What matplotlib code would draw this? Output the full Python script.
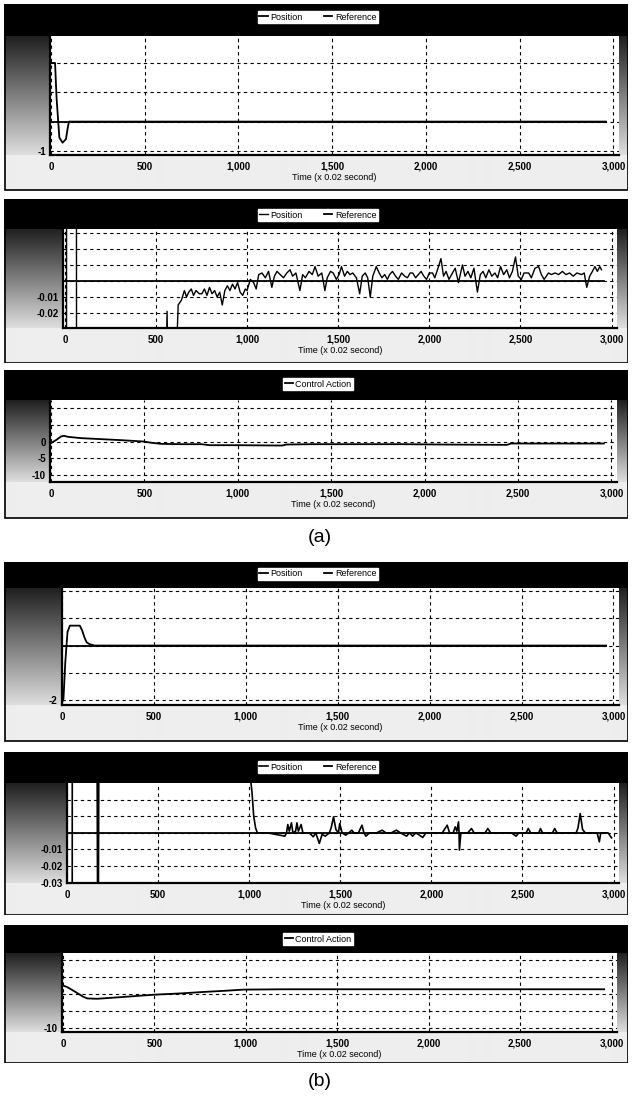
import numpy as np
import matplotlib
matplotlib.use("Agg")
import matplotlib.pyplot as plt
from matplotlib.patches import Rectangle

plt.rcParams["font.family"] = ["Liberation Sans", "DejaVu Sans"]

W, H = 641, 1112

# ---- data ----
XTICKS = [0, 500, 1000, 1500, 2000, 2500, 3000]
XTICK_LABELS = ["0", "500", "1,000", "1,500", "2,000", "2,500", "3,000"]
XLABEL = "Time (x 0.02 second)"

# (a) position, full scale
t_a_pos = [0, 22, 30, 45, 62, 80, 90, 96, 2960]
a_pos = [2.0, 2.0, 0.8, -0.55, -0.72, -0.6, -0.2, 0.0, 0.0]
t_ref = [0, 2960]
ref = [0.0, 0.0]

# (a) position, zoomed (units of 1e-3)
t_a_zoom = [0, 8, 11, 62, 66, 555, 561, 564, 567, 608, 622, 640, 656, 668, 680,
            694, 706, 720, 738, 752, 766, 780, 794, 808, 822, 836, 850, 864, 878,
            892, 906, 920, 934, 948, 962, 976, 990,
            1000, 1018, 1036, 1050, 1064, 1082, 1100, 1118, 1136, 1150, 1164, 1182,
            1200, 1218, 1236, 1250, 1268, 1290, 1305, 1320, 1340, 1358, 1373, 1390,
            1410, 1427, 1440, 1458, 1473, 1490, 1505, 1518, 1535, 1550, 1565, 1580,
            1600, 1618, 1632, 1648, 1662, 1676, 1690, 1709, 1725, 1740, 1755, 1770,
            1782, 1798, 1815, 1830, 1848, 1865, 1880, 1895, 1909, 1925, 1940, 1955,
            1970, 1985, 2000, 2018, 2030, 2045, 2064, 2078, 2092, 2108, 2127, 2142,
            2160, 2182, 2196, 2212, 2228, 2245, 2264, 2280, 2295, 2310, 2327, 2343,
            2360, 2375, 2391, 2408, 2425, 2440, 2456, 2473, 2488, 2505, 2520, 2545,
            2560, 2580, 2600, 2615, 2630, 2654, 2670, 2690, 2710, 2730, 2750, 2770,
            2790, 2810, 2836, 2850, 2864, 2880, 2895, 2909, 2922, 2936, 2945]
a_zoom = [-500, -500, 500, 500, -500, -60, -19, -40, -60, -60, -15, -12, -6, -10, -7,
          -5, -9, -6, -8, -8, -5, -9, -4, -8, -6, -10, -7, -15, -6,
          -3, -6, -2, -5, -1, -7, -9, -5,
          -6, 1, -1, -5, 4, 5, 2, 6, -4, 3, 6, 4,
          2, 5, 7, 3, 5, -6, 4, 2, 6, 4, 9, 3,
          5, -6, 2, 6, 5, 1, 4, 9, 3, 6, 4, 5,
          2, -8, 3, 5, 2, -10, 3, 9, 5, 2, 4, 1,
          4, 6, 3, 1, 5, 3, 2, 5, 5, 2, 4, 6,
          3, 1, 5, 5, 2, 7, 14, 3, 6, 1, 5, 8,
          -1, 10, 3, 6, 2, 8, -7, 4, 6, 2, 7, 3,
          5, 2, 9, 4, 7, 2, 6, 15, 3, 1, 5, 5,
          2, 8, 9, 4, 1, 5, 4, 5, 4, 6, 4, 5,
          3, 5, 4, 5, -4, 3, 6, 9, 6, 9, 7]

# (a) control action
t_a_ctrl = [0, 15, 32, 54, 70, 90, 161, 269, 376, 495, 540, 591, 700, 806, 849,
            1000, 1237, 1260, 1387, 1600, 1882, 2100, 2441, 2462, 2700, 2960]
a_ctrl = [-0.5, 0.0, 0.6, 1.5, 1.7, 1.4, 1.0, 0.7, 0.4, 0.0, -0.4, -0.7, -0.8, -0.8,
          -1.1, -1.1, -1.2, -0.9, -0.8, -0.8, -0.8, -0.9, -1.0, -0.6, -0.6, -0.6]

# (b) position, full scale
t_b_pos = [0, 8, 18, 30, 43, 97, 110, 122, 134, 150, 177, 2960]
b_pos = [-2.1, -1.95, -0.6, 0.5, 0.73, 0.73, 0.55, 0.3, 0.12, 0.05, 0.0, 0.0]

# (b) position, zoomed (units of 1e-3)
t_b_zoom = [0, 24, 30, 165, 168, 172, 175, 1000, 1015, 1025, 1035, 1045, 1100,
            1196, 1205, 1212, 1220, 1232, 1240, 1255, 1262, 1270, 1285, 1295, 1330,
            1352, 1365, 1385, 1400, 1418, 1440, 1450, 1463, 1476, 1490, 1497, 1510,
            1530, 1548, 1563, 1575, 1600, 1612, 1619, 1630, 1641, 1660, 1700, 1730,
            1750, 1780, 1808, 1830, 1864, 1880, 1897, 1915, 1953, 1970, 2060, 2087,
            2100, 2120, 2131, 2140, 2149, 2152, 2154, 2162, 2200, 2220, 2235, 2295,
            2310, 2325, 2440, 2465, 2480, 2520, 2532, 2545, 2590, 2599, 2610, 2665,
            2677, 2690, 2795, 2805, 2817, 2830, 2845, 2910, 2922, 2930, 2970, 2989]
b_zoom = [-2000, -2000, 500, 50, -50, -50, 50, 40, 25, 10, 3, 0, 0,
          -2, 0, 5, 1, 6, 0, 1, 6, 1, 5, 0, 0,
          -2.4, 0, -6.4, -1, -2, 0, 3, 9.6, 2, 0, 5.6, 0,
          -1.4, 0, 1.6, 0, 0, 3, 4.6, 0, -2, 0, 0, 1.6,
          0, 0, 1.6, 0, -2, 0, -2, 0, -2.8, 0, 0, 4.6,
          0, 0, 3.6, 1, 6.6, 0, -10.4, 0, 0, 2.6, 0, 0,
          2.6, 0, 0, -2, 0, 0, 2.6, 0, 0, 2.6, 0, 0,
          2.6, 0, 0, 3, 11.6, 2, 0, 0, -5.4, 0, 0, -3]

# (b) control action
t_b_ctrl = [0, 22, 66, 111, 133, 188, 321, 499, 650, 765, 900, 987, 1200, 1600,
            2000, 2500, 2960]
b_ctrl = [2.4, 2.0, 0.6, -0.9, -1.4, -1.5, -1.0, -0.3, 0.1, 0.5, 0.9, 1.2, 1.3,
          1.3, 1.3, 1.3, 1.3]


def rect(x0, y0, x1, y1):
    return [x0 / W, 1 - y1 / H, (x1 - x0) / W, (y1 - y0) / H]


def panel(fig, frame, plot, xlo, ylim, yticks, ylabels):
    fx0, fy0, fx1, fy1 = frame
    px0, py0, px1, py1 = plot
    # background: black header, grey gradient down the sides, white under the plot
    bg = fig.add_axes(rect(*frame))
    ys = np.arange(fy0, fy1) + 0.5
    shade = np.where(ys < py0, 0.0,
                     np.where(ys > py1, 0.93,
                              0.12 + 0.75 * (ys - py0) / (py1 - py0)))
    bg.imshow(shade[:, None], cmap="gray", vmin=0, vmax=1, aspect="auto",
              extent=(fx0, fx1, fy1, fy0), interpolation="bilinear")
    bg.set_xlim(fx0, fx1)
    bg.set_ylim(fy1, fy0)
    bg.add_patch(Rectangle((fx0 + 0.5, fy0 + 0.5), fx1 - fx0 - 1, fy1 - fy0 - 1,
                           fill=False, ec="black", lw=1.2))
    bg.axis("off")

    ax = fig.add_axes(rect(*plot))
    ax.set_facecolor("white")
    ax.set_xlim(xlo, 3030)
    ax.set_ylim(*ylim)
    ax.set_xticks(XTICKS, XTICK_LABELS)
    ax.set_yticks(yticks, ylabels)
    ax.tick_params(length=0, labelsize=7, pad=5)
    ax.tick_params(axis="y", pad=3)
    for lab in ax.get_xticklabels() + ax.get_yticklabels():
        lab.set_fontweight("bold")
    ax.grid(True, color="black", lw=0.8, ls=(0, (3, 3)))
    for s in ["top", "right"]:
        ax.spines[s].set_visible(False)
    for s in ["left", "bottom"]:
        ax.spines[s].set_linewidth(1.6)
    ax.set_xlabel(XLABEL, fontsize=6.5, labelpad=1)
    return ax


def add_legend(fig, handles, y):
    fig.legend(handles=handles, loc="center", ncol=len(handles),
               bbox_to_anchor=(318 / W, 1 - y / H), bbox_transform=fig.transFigure,
               fontsize=6.5, frameon=True, fancybox=False, framealpha=1,
               edgecolor="white", facecolor="white", handlelength=0.9,
               handletextpad=0.3, columnspacing=2.4, borderpad=0.2)


fig = plt.figure(figsize=(W / 100, H / 100), dpi=100)
fig.patch.set_facecolor("white")

# (a) top: position
ax1 = panel(fig, (4, 4, 628, 191), (50, 36, 619, 155), -5, (-1.14, 2.92),
            [-1, 0, 1, 2], ["-1", "", "", ""])
l1, = ax1.plot(t_a_pos, a_pos, color="black", lw=1.3, label="Position")
l2, = ax1.plot(t_ref, ref, color="black", lw=1.3, label="Reference")
add_legend(fig, [l1, l2], 17)

# (a) middle: position zoomed
ax2 = panel(fig, (4, 199, 628, 363), (63, 229, 617, 328), -10, (-0.0294, 0.0325),
            [-0.02, -0.01, 0, 0.01, 0.02, 0.03], ["-0.02", "-0.01", "", "", "", ""])
l1, = ax2.plot(t_a_zoom, np.array(a_zoom) * 1e-3, color="black", lw=1.0,
               label="Position")
l2, = ax2.plot(t_ref, ref, color="black", lw=1.3, label="Reference")
add_legend(fig, [l1, l2], 215)

# (a) bottom: control action
ax3 = panel(fig, (4, 370, 628, 519), (50, 400, 617, 482), -5, (-12.05, 12.35),
            [-10, -5, 0, 5, 10], ["-10", "-5", "0", "", ""])
l1, = ax3.plot(t_a_ctrl, a_ctrl, color="black", lw=1.3, label="Control Action")
add_legend(fig, [l1], 384)

fig.text(320 / W, 1 - 537 / H, "(a)", fontsize=14, ha="center", va="center")

# (b) top: position
ax4 = panel(fig, (4, 562, 628, 742), (62, 588, 619, 705), 0, (-2.18, 2.11),
            [-2, -1, 0, 1, 2], ["-2", "", "", "", ""])
l1, = ax4.plot(t_b_pos, b_pos, color="black", lw=1.3, label="Position")
l2, = ax4.plot(t_ref, ref, color="black", lw=1.3, label="Reference")
add_legend(fig, [l1, l2], 574)

# (b) middle: position zoomed
ax5 = panel(fig, (4, 752, 628, 915), (67, 783, 619, 883), 0, (-0.0302, 0.030),
            [-0.03, -0.02, -0.01, 0, 0.01, 0.02],
            ["-0.03", "-0.02", "-0.01", "", "", ""])
l1, = ax5.plot(t_b_zoom, np.array(b_zoom) * 1e-3, color="black", lw=1.2,
               label="Position")
l2, = ax5.plot(t_ref, ref, color="black", lw=1.3, label="Reference")
add_legend(fig, [l1, l2], 767)

# (b) bottom: control action
ax6 = panel(fig, (4, 925, 628, 1063), (62, 953, 617, 1032), -5, (-11.3, 12.0),
            [-10, -5, 0, 5, 10], ["-10", "", "", "", ""])
l1, = ax6.plot(t_b_ctrl, b_ctrl, color="black", lw=1.3, label="Control Action")
add_legend(fig, [l1], 939)

fig.text(320 / W, 1 - 1082 / H, "(b)", fontsize=14, ha="center", va="center")

fig.savefig("out.png", dpi=100)
